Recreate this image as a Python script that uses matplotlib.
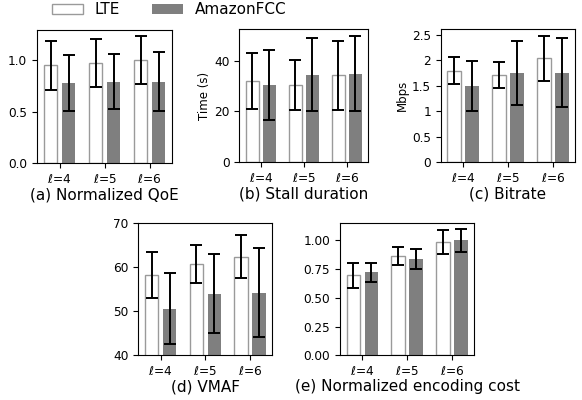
import matplotlib
matplotlib.use("Agg")
import matplotlib.pyplot as plt
import numpy as np
from matplotlib.ticker import MultipleLocator, FuncFormatter
from matplotlib.patches import Patch

groups = [r'$\ell$=4', r'$\ell$=5', r'$\ell$=6']
series = ['LTE', 'AmazonFCC']

qoe_lte = [0.95, 0.975, 1.00]
qoe_lte_err = [0.24, 0.236, 0.233]
qoe_fcc = [0.783, 0.793, 0.793]
qoe_fcc_err = [0.272, 0.272, 0.29]

stall_lte = [32.0, 30.4, 34.2]
stall_lte_err = [11.0, 9.7, 13.5]
stall_fcc = [30.4, 34.5, 34.9]
stall_fcc_err = [13.9, 14.3, 14.9]

bitrate_lte = [1.80, 1.715, 2.04]
bitrate_lte_err = [0.27, 0.25, 0.445]
bitrate_fcc = [1.49, 1.75, 1.76]
bitrate_fcc_err = [0.49, 0.63, 0.67]

vmaf_lte = [58.1, 60.6, 62.3]
vmaf_lte_err = [5.25, 4.25, 4.95]
vmaf_fcc = [50.5, 53.9, 54.1]
vmaf_fcc_err = [8.05, 8.9, 10.05]

cost_lte = [0.696, 0.863, 0.985]
cost_lte_err = [0.106, 0.078, 0.105]
cost_fcc = [0.722, 0.84, 1.0]
cost_fcc_err = [0.08, 0.085, 0.10]

W, H = 582, 400
fig = plt.figure(figsize=(W / 100, H / 100), dpi=100)

def rect(x0, x1, ytop, ybot):
    return [x0 / W, 1 - ybot / H, (x1 - x0) / W, (ybot - ytop) / H]

panels = [
    (rect(37, 172, 30, 163), qoe_lte, qoe_lte_err, qoe_fcc, qoe_fcc_err, '(a) Normalized QoE', None),
    (rect(239.3, 368.3, 29.3, 162.3), stall_lte, stall_lte_err, stall_fcc, stall_fcc_err, '(b) Stall duration', 'Time (s)'),
    (rect(440.7, 575.3, 29.3, 162.3), bitrate_lte, bitrate_lte_err, bitrate_fcc, bitrate_fcc_err, '(c) Bitrate', 'Mbps'),
    (rect(138.3, 272.3, 222.7, 355), vmaf_lte, vmaf_lte_err, vmaf_fcc, vmaf_fcc_err, '(d) VMAF', None),
    (rect(340, 474.3, 222.7, 355.3), cost_lte, cost_lte_err, cost_fcc, cost_fcc_err, '(e) Normalized encoding cost', None),
]

x = np.arange(len(groups))
bw = 0.3
off = 0.2
gray = '#7f7f7f'
edge = '#9a9a9a'
ekw = dict(ecolor='black', elinewidth=1.4, capsize=4.0, capthick=1.4)

axes = []
for pos, lv, le, fv, fe, title, ylab in panels:
    ax = fig.add_axes(pos)
    ax.bar(x - off, lv, bw, yerr=le, color='white', edgecolor=edge, linewidth=1.0, error_kw=ekw)
    ax.bar(x + off, fv, bw, yerr=fe, color=gray, edgecolor=gray, linewidth=0, error_kw=ekw)
    ax.set_xlim(-0.5, 2.5)
    ax.set_xticks(x)
    ax.set_xticklabels(groups, fontsize=8.7)
    ax.tick_params(axis='y', labelsize=8.7)
    ax.set_xlabel(title, fontsize=11, labelpad=1)
    if ylab:
        ax.set_ylabel(ylab, fontsize=8.5, labelpad=2)
    axes.append(ax)

axes[0].set_ylim(bottom=0)
axes[0].yaxis.set_major_locator(MultipleLocator(0.5))
axes[1].set_ylim(bottom=0)
axes[1].yaxis.set_major_locator(MultipleLocator(20))
axes[2].set_ylim(bottom=0)
axes[2].yaxis.set_major_locator(MultipleLocator(0.5))
axes[2].yaxis.set_major_formatter(FuncFormatter(lambda v, p: '%g' % v))
axes[3].set_ylim(40, 70)
axes[3].yaxis.set_major_locator(MultipleLocator(10))
axes[4].set_ylim(bottom=0)
axes[4].yaxis.set_major_locator(MultipleLocator(0.25))
axes[4].yaxis.set_major_formatter(FuncFormatter(lambda v, p: '%.2f' % v))

handles = [Patch(facecolor='white', edgecolor=edge, linewidth=1.0, label=series[0]),
           Patch(facecolor=gray, edgecolor=gray, linewidth=0, label=series[1])]
fig.legend(handles=handles, loc='center left', bbox_to_anchor=(51.7 / W, 1 - 9.7 / H),
           ncol=2, frameon=False, fontsize=11, borderpad=0, borderaxespad=0,
           handlelength=2.03, handleheight=0.70, handletextpad=0.8, columnspacing=2.07)

fig.savefig('out.png', dpi=100)
